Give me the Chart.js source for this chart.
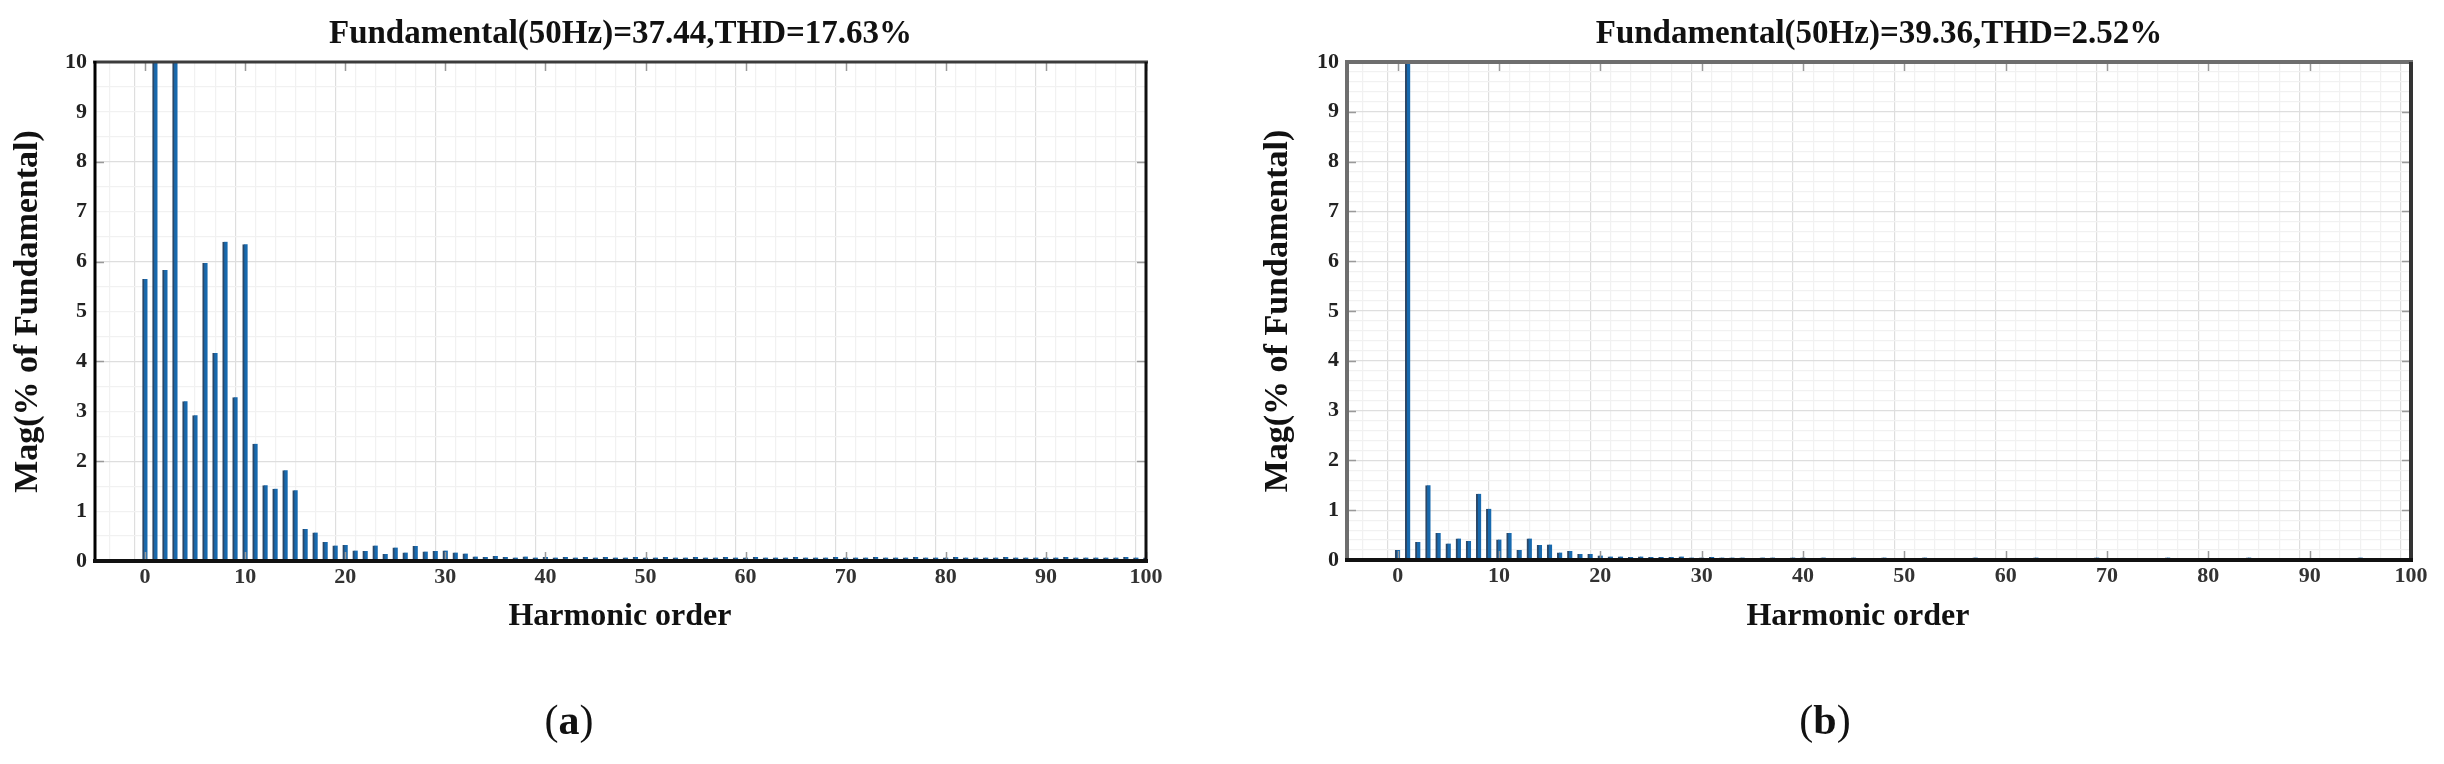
<!DOCTYPE html>
<html>
<head>
<meta charset="utf-8">
<script src="https://cdn.jsdelivr.net/npm/chart.js@4.4.0/dist/chart.umd.min.js"></script>
<style>
html,body{margin:0;padding:0;background:#fff;width:2444px;height:764px;overflow:hidden;}
.wrap{position:absolute;top:0;height:764px;}
#wa{left:0;width:1200px;}
#wb{left:1250px;width:1194px;}
.cap{position:absolute;top:696px;line-height:48px;font-family:'Liberation Serif',serif;font-size:42px;color:#111;transform:translateX(-50%);white-space:nowrap;}
</style>
</head>
<body>
<div class="wrap" id="wa"><canvas id="ca"></canvas></div>
<div class="wrap" id="wb"><canvas id="cb"></canvas></div>
<div class="cap" style="left:569px">(<b>a</b>)</div>
<div class="cap" style="left:1825px">(<b>b</b>)</div>
<script>
// ---- data ----
const harmonicOrders = Array.from({length: 101}, (_, i) => i);
const xTickLabels = [0, 10, 20, 30, 40, 50, 60, 70, 80, 90, 100];
const yTickLabels = [0, 1, 2, 3, 4, 5, 6, 7, 8, 9, 10];

const titleA = 'Fundamental(50Hz)=37.44,THD=17.63%';
const titleB = 'Fundamental(50Hz)=39.36,THD=2.52%';
const xTitle = 'Harmonic order';
const yTitle = 'Mag(% of Fundamental)';

// Magnitude (% of fundamental), harmonic order 0..100
const magA = [
  5.65, 100, 5.83, 10.4, 3.2, 2.92, 5.97, 4.17, 6.4, 3.28,
  6.35, 2.35, 1.52, 1.45, 1.82, 1.42, 0.64, 0.57, 0.38, 0.31,
  0.32, 0.21, 0.2, 0.31, 0.14, 0.27, 0.17, 0.3, 0.19, 0.2,
  0.21, 0.17, 0.15, 0.09, 0.08, 0.1, 0.08, 0.07, 0.09, 0.07,
  0.08, 0.07, 0.08, 0.07, 0.08, 0.07, 0.08, 0.07, 0.07, 0.08,
  0.07, 0.07, 0.08, 0.07, 0.07, 0.08, 0.07, 0.07, 0.08, 0.07,
  0.07, 0.08, 0.07, 0.07, 0.07, 0.08, 0.07, 0.07, 0.07, 0.08,
  0.07, 0.07, 0.07, 0.08, 0.07, 0.07, 0.07, 0.08, 0.07, 0.07,
  0.07, 0.08, 0.07, 0.07, 0.07, 0.07, 0.08, 0.07, 0.07, 0.07,
  0.07, 0.07, 0.08, 0.07, 0.07, 0.07, 0.07, 0.07, 0.08, 0.07,
  0.07
];
const magB = [
  0.2, 100, 0.36, 1.5, 0.54, 0.33, 0.43, 0.38, 1.33, 1.03,
  0.41, 0.54, 0.2, 0.43, 0.3, 0.31, 0.15, 0.18, 0.12, 0.12,
  0.09, 0.07, 0.07, 0.06, 0.07, 0.06, 0.06, 0.06, 0.07, 0.05,
  0.05, 0.06, 0.05, 0.05, 0.05, 0.04, 0.05, 0.05, 0.04, 0.05,
  0.05, 0.04, 0.05, 0.04, 0.04, 0.05, 0.04, 0.04, 0.05, 0.04,
  0.04, 0.04, 0.05, 0.04, 0.04, 0.04, 0.04, 0.05, 0.04, 0.04,
  0.04, 0.04, 0.04, 0.05, 0.04, 0.04, 0.04, 0.04, 0.04, 0.05,
  0.04, 0.04, 0.04, 0.04, 0.04, 0.04, 0.05, 0.04, 0.04, 0.04,
  0.04, 0.04, 0.04, 0.04, 0.05, 0.04, 0.04, 0.04, 0.04, 0.04,
  0.04, 0.04, 0.04, 0.04, 0.04, 0.05, 0.04, 0.04, 0.04, 0.04,
  0.04
];

// ---- helpers ----
const FONT = "'Liberation Serif', 'Times New Roman', serif";
const near = (v, m) => Math.abs(v / m - Math.round(v / m)) < 1e-6;

const framePlugin = {
  id: 'frame',
  afterDraw(chart, args, o) {
    const {ctx, chartArea: a} = chart;
    const xs = chart.scales.x, ys = chart.scales.y;
    ctx.save();
    // inner tick marks
    ctx.strokeStyle = '#9a9a9a';
    ctx.lineWidth = 1.5;
    ctx.beginPath();
    xTickLabels.forEach(v => {
      const px = Math.round(xs.getPixelForValue(v)) + 0.5;
      ctx.moveTo(px, a.top); ctx.lineTo(px, a.top + 9);
      ctx.moveTo(px, a.bottom); ctx.lineTo(px, a.bottom - 9);
    });
    o.yMarks.forEach(v => {
      const py = Math.round(ys.getPixelForValue(v)) + 0.5;
      ctx.moveTo(a.left, py); ctx.lineTo(a.left + 9, py);
      ctx.moveTo(a.right, py); ctx.lineTo(a.right - 9, py);
    });
    ctx.stroke();
    const line = (x1, y1, x2, y2, c, w) => {
      ctx.strokeStyle = c; ctx.lineWidth = w;
      ctx.beginPath(); ctx.moveTo(x1, y1); ctx.lineTo(x2, y2); ctx.stroke();
    };
    line(a.left - 2, a.top, a.right + 2, a.top, o.top, o.wTop);
    line(a.right, a.top, a.right, a.bottom + 2, o.right, o.wRight);
    line(a.left, a.top - 1, a.left, a.bottom + 2, o.left, o.wLeft);
    line(a.left - 2, a.bottom, a.right + 2, a.bottom, o.bottom, o.wBottom);
    // x-axis title
    ctx.fillStyle = '#111';
    ctx.font = "bold 32px " + FONT;
    ctx.textAlign = 'center';
    ctx.textBaseline = 'middle';
    ctx.fillText(xTitle, o.xTitleX, o.xTitleY);
    ctx.restore();
  }
};

function makeChart(id, values, title, area, W, cfg) {
  const xAxisBottom = 650;
  return new Chart(document.getElementById(id), {
    type: 'bar',
    data: {
      datasets: [{
        data: harmonicOrders.map((h, i) => ({x: h, y: values[i]})),
        backgroundColor: '#1769ae',
        borderColor: '#2c4766',
        borderWidth: {left: 2, right: 0, top: 0, bottom: 0},
        borderSkipped: false,
        barThickness: 5,
        grouped: false
      }]
    },
    options: {
      responsive: true,
      maintainAspectRatio: false,
      animation: false,
      events: [],
      layout: {padding: {left: 0, top: 0, right: W - area.right, bottom: 764 - xAxisBottom}},
      plugins: {
        legend: {display: false},
        tooltip: {enabled: false},
        title: {
          display: true,
          text: title,
          fullSize: false,
          color: '#111',
          font: {family: FONT, size: 33, weight: 'bold', lineHeight: 1.2},
          padding: {top: 15, bottom: area.top - 15 - 33 * 1.2}
        },
        frame: cfg.frame
      },
      scales: {
        x: {
          type: 'linear',
          min: -5, max: 100,
          offset: false,
          grid: {
            drawTicks: false,
            color: c => (c.tick && near(c.tick.value, 10)) ? '#dedede' : '#f1f1f1',
            lineWidth: 1.2
          },
          border: {display: false},
          ticks: {
            stepSize: 2,
            autoSkip: false,
            maxRotation: 0,
            padding: 3,
            color: '#333',
            font: {family: FONT, size: 22, weight: 'bold'},
            callback: v => xTickLabels.includes(v) ? String(v) : ''
          },
          title: {display: false},
          afterFit: s => { s.height = xAxisBottom - area.bottom; }
        },
        y: {
          type: 'linear',
          min: 0, max: 10,
          grid: {
            drawTicks: false,
            color: c => (c.tick && near(c.tick.value, cfg.yMajor)) ? '#dedede' : '#f1f1f1',
            lineWidth: 1.2
          },
          border: {display: false},
          ticks: {
            stepSize: cfg.yStep,
            autoSkip: false,
            padding: 8,
            color: '#222',
            font: {family: FONT, size: 22, weight: 'bold'},
            callback: v => yTickLabels.some(t => Math.abs(t - v) < 1e-6) ? String(Math.round(v)) : ''
          },
          title: {
            display: true, text: yTitle, color: '#111',
            font: {family: FONT, size: 34, weight: 'bold', lineHeight: 1.2},
            padding: {top: 8, bottom: 0}
          },
          afterFit: s => { s.width = area.left; }
        }
      }
    },
    plugins: [framePlugin]
  });
}

makeChart('ca', magA, titleA, {left: 95, right: 1146, top: 62, bottom: 561}, 1200, {
  yStep: 0.5, yMajor: 2,
  frame: {yMarks: [2, 4, 6, 8], top: '#3c3c3c', wTop: 3, right: '#111', wRight: 3,
          left: '#000', wLeft: 3, bottom: '#111', wBottom: 4,
          xTitleX: 620, xTitleY: 617}
});
makeChart('cb', magB, titleB, {left: 97, right: 1161, top: 62, bottom: 560}, 1194, {
  yStep: 0.2, yMajor: 1,
  frame: {yMarks: [1, 2, 3, 4, 5, 6, 7, 8, 9], top: '#6e6e6e', wTop: 4, right: '#333', wRight: 4,
          left: '#6e6e6e', wLeft: 4, bottom: '#111', wBottom: 4,
          xTitleX: 608, xTitleY: 617}
});
</script>
</body>
</html>
